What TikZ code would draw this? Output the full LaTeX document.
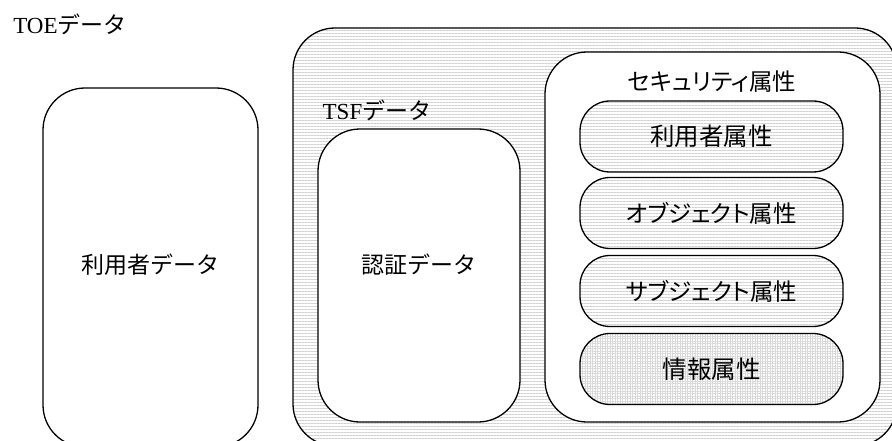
\documentclass[tikz,border=0pt]{standalone}
\usepackage{fontspec}
\setmainfont{Liberation Serif}
\newfontfamily\jp{Noto Sans CJK JP}
\newfontfamily\jpp[RawFeature=+palt]{Noto Sans CJK JP}
\usetikzlibrary{patterns.meta}
\tikzset{
  lined/.style={pattern={Lines[angle=0,distance=3pt,line width=0.8pt]}, pattern color=black!18},
  gridded/.style={pattern={Hatch[angle=0,distance=2.5pt,line width=0.5pt]}, pattern color=black!15},
  databox/.style={draw, line width=1.3pt, rounded corners=42pt, inner sep=0pt},
  attrpill/.style={draw, line width=1.3pt, rounded corners=30pt, minimum width=263pt, minimum height=71pt, inner sep=0pt},
  lbl/.style={inner sep=0pt, font=\fontsize{23}{27}\selectfont},
  biglbl/.style={inner sep=0pt, font=\fontsize{24.5}{28}\selectfont},
}
\begin{document}
\begin{tikzpicture}[x=1pt,y=-1pt]
  \useasboundingbox (0,0) rectangle (892,441);
  \clip (0,0) rectangle (892,441);
  % TOE data
  \node[lbl] (toe) at (70,24) {TOE{\jp データ}};
  \node[databox, fill=white, minimum width=215pt, minimum height=359pt] (userdata) at (150.5,267.5) {};
  \node[lbl] (usertext) at (150,265) {\jp 利用者データ};
  % TSF data
  \node[databox, lined, minimum width=604pt, minimum height=418pt] (tsf) at (595,237) {};
  \node[lbl] (tsftext) at (377,110) {TSF{\jp データ}};
  \node[databox, fill=white, minimum width=202pt, minimum height=293pt] (auth) at (419,275.5) {};
  \node[lbl] (authtext) at (419,265) {\jp 認証データ};
  % security attributes
  \node[databox, fill=white, minimum width=335pt, minimum height=370pt] (sec) at (712.5,237) {};
  \node[lbl, font=\fontsize{23.5}{27}\selectfont] (sectext) at (712,82) {\jpp セキュリティ属性};
  \node[attrpill, lined] (ua) at (711.5,136.5) {};
  \node[attrpill, lined] (oa) at (711.5,213) {};
  \node[attrpill, lined] (sa) at (711.5,291) {};
  \node[attrpill, gridded] (ia) at (711.5,369) {};
  \node[biglbl] at (ua) {\jpp 利用者属性};
  \node[lbl, font=\fontsize{23.5}{27}\selectfont] at (oa) {\jpp オブジェクト属性};
  \node[lbl, font=\fontsize{23.5}{27}\selectfont] at (sa) {\jpp サブジェクト属性};
  \node[biglbl] at (ia) {\jpp 情報属性};
\end{tikzpicture}
\end{document}
